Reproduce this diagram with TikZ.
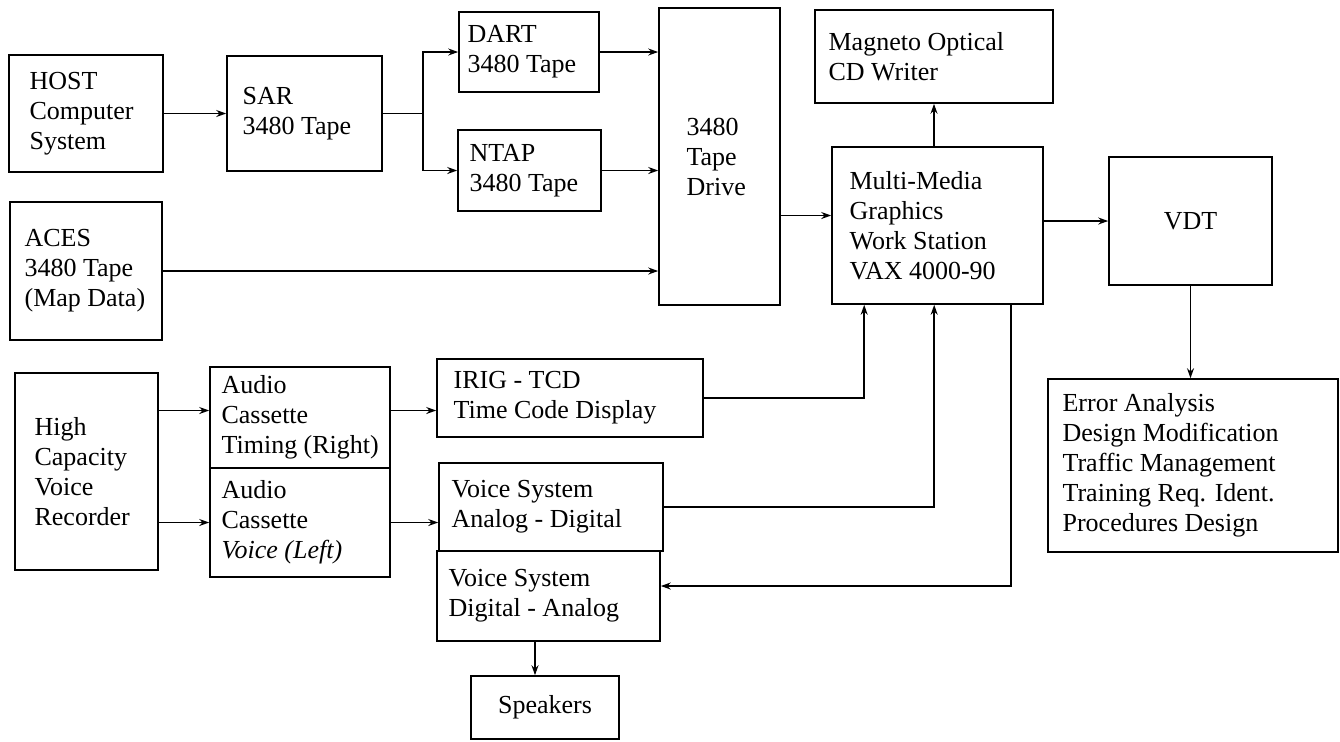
\documentclass[tikz,border=0pt]{standalone}
\usepackage{fontspec}
\setmainfont{Liberation Serif}
\usetikzlibrary{arrows.meta,calc}
\tikzset{
  box/.style={draw, line width=0.8pt, inner sep=0pt, rectangle},
  txt/.style={align=left, inner sep=0pt, font=\fontsize{13}{15}\selectfont},
  ctxt/.style={align=center, inner sep=0pt, font=\fontsize{13}{15}\selectfont},
  conn/.style={line width=0.8pt},
  arr/.style={line width=0.8pt, -{Stealth[length=5pt,width=3.5pt]}}
}
\newcommand{\mkbox}[7]{%
  \pgfmathsetmacro\bxw{(#4-#2)*0.5}%
  \pgfmathsetmacro\bxh{(#5-#3)*0.5}%
  \node[box, minimum width=\bxw pt, minimum height=\bxh pt] (#1) at ({(#2+#4)/2},{(#3+#5)/2}) {};%
  \node[txt, anchor=west] (#1T) at ([xshift=#6*0.5pt]#1.west) {#7};%
}
\newcommand{\mkcbox}[6]{%
  \pgfmathsetmacro\bxw{(#4-#2)*0.5}%
  \pgfmathsetmacro\bxh{(#5-#3)*0.5}%
  \node[box, minimum width=\bxw pt, minimum height=\bxh pt] (#1) at ({(#2+#4)/2},{(#3+#5)/2}) {};%
  \node[ctxt] (#1T) at (#1.center) {#6};%
}
\begin{document}
\begin{tikzpicture}[x=0.5pt,y=-0.5pt]
\useasboundingbox (0,0) rectangle (1340,741);
% boxes
\mkbox{host}{9}{55}{163}{172}{21}{HOST\\Computer\\System}
\mkbox{sar}{227}{56}{382}{171}{16}{SAR\\3480 Tape}
\mkbox{dart}{459}{12}{599}{92}{9}{DART\\3480 Tape}
\mkbox{ntap}{458}{130}{601}{211}{12}{NTAP\\3480 Tape}
\mkbox{drive}{659}{8}{780}{305}{28}{3480\\Tape\\Drive}
\mkbox{mag}{815}{10}{1053}{103}{14}{Magneto Optical\\CD Writer}
\mkbox{mm}{832}{147}{1043}{304}{18}{Multi-Media\\Graphics\\Work Station\\VAX 4000-90}
\mkcbox{vdt}{1109}{157}{1272}{285}{VDT}
\mkbox{err}{1048}{379}{1338}{552}{15}{Error Analysis\\Design Modification\\Traffic Management\\Training Req. Ident.\\Procedures Design}
\mkbox{aces}{10}{202}{162}{340}{15}{ACES\\3480 Tape\\(Map Data)}
\mkbox{high}{15}{373}{158}{570}{20}{High\\Capacity\\Voice\\Recorder}
\mkbox{timing}{210}{367}{390}{468}{12}{Audio\\Cassette\\Timing (Right)}
\mkbox{voice}{210}{468}{390}{577}{12}{Audio\\Cassette\\\textit{Voice (Left)}}
\mkbox{irig}{437}{359}{703}{437}{17}{IRIG - TCD\\Time Code Display}
\mkbox{vad}{439}{463}{663}{551}{13}{Voice System\\Analog - Digital}
\mkbox{vda}{437}{551}{660}{641}{12}{Voice System\\Digital - Analog}
\mkcbox{spk}{471}{676}{619}{739}{Speakers}
% coordinates
\coordinate (split) at (423,113.5);
\coordinate (mmin) at ([yshift=5pt]mm.west);
\coordinate (tin) at ([yshift=3.5pt]timing.west);
\coordinate (mmb1) at ([xshift=16.5pt]mm.south west);
\coordinate (mmb2) at ([xshift=51.5pt]mm.south west);
\coordinate (mmb3) at ([xshift=90pt]mm.south west);
\coordinate (vdain) at ([yshift=5pt]vda.east);
\coordinate (spkin) at ([xshift=-5pt]spk.north);
% connectors
\draw[arr] (host.east) -- (sar.west);
\draw[conn] (sar.east) -- (split);
\draw[arr] (split) |- (dart.west);
\draw[arr] (split) |- (ntap.west);
\draw[arr] (dart.east) -- (dart.east -| drive.west);
\draw[arr] (ntap.east) -- (ntap.east -| drive.west);
\draw[arr] (aces.east) -- (aces.east -| drive.west);
\draw[arr] (mmin -| drive.east) -- (mmin);
\draw[arr] (vdt.west -| mm.east) -- (vdt.west);
\draw[arr] (mag.south |- mm.north) -- (mag.south);
\draw[arr] (vdt.south) -- (vdt.south |- err.north);
\draw[arr] (tin -| high.east) -- (tin);
\draw[arr] (voice.west -| high.east) -- (voice.west);
\draw[arr] (tin -| timing.east) -- (tin -| irig.west);
\draw[arr] (voice.east) -- (voice.east -| vad.west);
\draw[arr] (irig.east) -| (mmb1);
\draw[arr] (vad.east) -| (mmb2);
\draw[arr] (mmb3) |- (vdain);
\draw[arr] (spkin |- vda.south) -- (spkin);
\end{tikzpicture}
\end{document}
